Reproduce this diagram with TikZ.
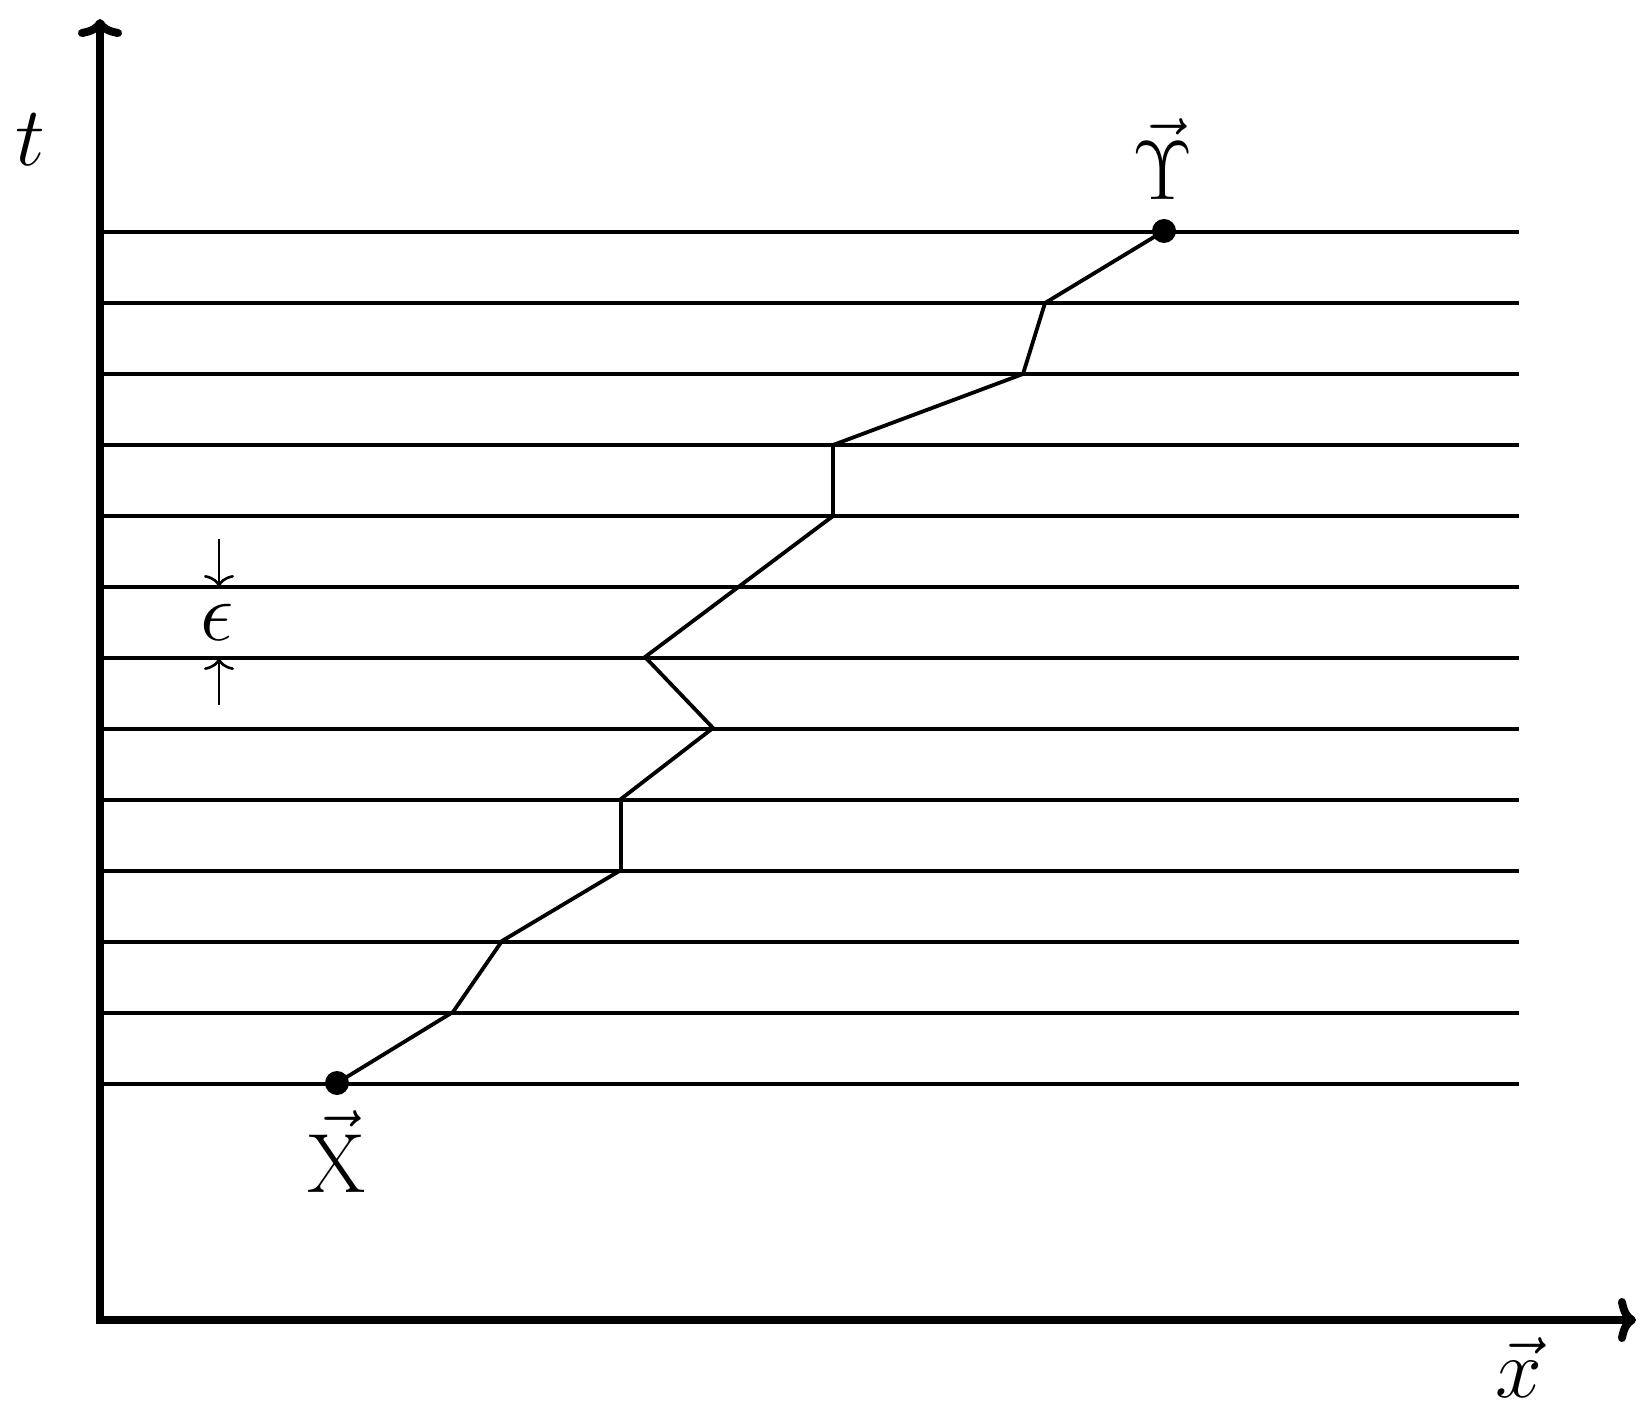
\RequirePackage{fix-cm}
\documentclass[tikz,border=0pt]{standalone}
\usetikzlibrary{arrows.meta}
\begin{document}
\begin{tikzpicture}[x=0.5pt,y=-0.5pt,
  grid/.style={line width=1.65pt},
  axis/.style={line width=4pt,-{To[length=9pt,width=22pt]}},
  walk/.style={line width=1.9pt,line join=miter},
  dot/.style={circle,fill=black,inner sep=0pt,minimum size=12pt},
  lbl/.style={inner sep=0pt,font=\fontsize{42}{50}\selectfont},
  small/.style={line width=1.3pt,-{To[length=6pt,width=15pt]}}]
\useasboundingbox (0,0) rectangle (1650,1411);
% horizontal lines
\foreach \k in {0,...,12}{
  \draw[grid] (104,{232+71*\k}) -- (1519,{232+71*\k});
}
% axes
\coordinate (T) at (100,19);
\coordinate (E) at (1636,1320);
\draw[axis] (100,1324) -- (T);
\draw[axis] (96,1320) -- (E);
% walk
\node[dot] (X) at (337,1083) {};
\node[dot] (Y) at (1164,231) {};
\coordinate (p1) at (453,1012);
\coordinate (p2) at (502,941);
\coordinate (p3) at (621,870);
\coordinate (p4) at (621,799);
\coordinate (p5) at (713,728);
\coordinate (p6) at (645,657);
\coordinate (p7) at (833,516);
\coordinate (p8) at (833,445);
\coordinate (p9) at (1023,374);
\coordinate (p10) at (1045,303);
\draw[walk] (X.center) -- (p1) -- (p2) -- (p3) -- (p4) -- (p5) -- (p6) -- (p7) -- (p8) -- (p9) -- (p10) -- (Y.center);
% labels
\node[lbl] (lt) at (30,140) {$t$};
\node[lbl,anchor=base] (lx) at (1519,1397) {$\vec{x}$};
\node[lbl,anchor=base] (lX) at (337,1192) {$\vec{\mathrm{X}}$};
\node[lbl,anchor=base] (lY) at (1163,200) {$\vec{\Upsilon}$};
\node[lbl] (le) at (217,622) {$\epsilon$};
% epsilon arrows
\coordinate (a1) at (219,539);
\coordinate (a2) at (219,587);
\coordinate (b1) at (219,705);
\coordinate (b2) at (219,658);
\draw[small] (a1) -- (a2);
\draw[small] (b1) -- (b2);
\end{tikzpicture}
\end{document}
